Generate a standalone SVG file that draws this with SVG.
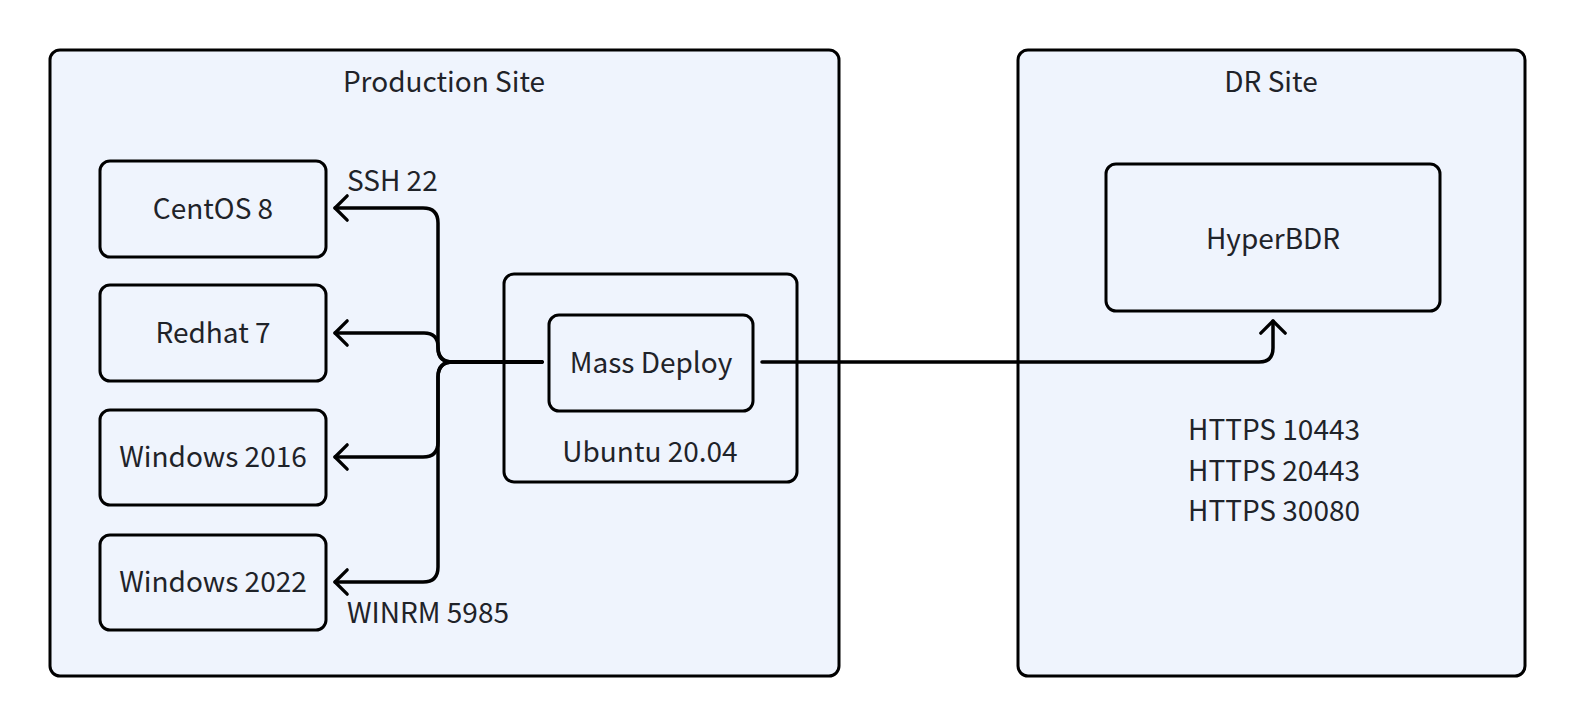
<svg xmlns="http://www.w3.org/2000/svg" width="1578" height="728" viewBox="0 0 1578 728">
  <style>
    .box { fill: #eff4fd; stroke: #000; stroke-width: 3; }
    .txt { font-family: "Noto Sans CJK SC", "Noto Sans", sans-serif; font-size: 28px; font-weight: 400; fill: #1f2329; }
    .mid { text-anchor: middle; }
    .conn { fill: none; stroke: #000; stroke-width: 3.5; stroke-linecap: round; stroke-linejoin: round; }
  </style>
  <defs>
    <marker id="arrow" markerUnits="userSpaceOnUse" markerWidth="30" markerHeight="30" viewBox="-16 -16 32 32" refX="0" refY="0" orient="auto">
      <path d="M-13 -13 L0 0 L-13 13" fill="none" stroke="#000" stroke-width="3.5" stroke-linecap="round" stroke-linejoin="round"/>
    </marker>
  </defs>
  <rect width="1578" height="728" fill="#ffffff"/>

  <g id="production-site">
    <rect class="box" x="50" y="50" width="789" height="626" rx="10"/>
    <text class="txt mid" x="444" y="92">Production Site</text>
  </g>
  <g id="dr-site">
    <rect class="box" x="1018" y="50" width="507" height="626" rx="10"/>
    <text class="txt mid" x="1271" y="92">DR Site</text>
  </g>

  <g id="centos8">
    <rect class="box" x="100" y="161" width="226" height="96" rx="10"/>
    <text class="txt mid" x="213" y="219">CentOS 8</text>
  </g>
  <g id="redhat7">
    <rect class="box" x="100" y="285" width="226" height="96" rx="10"/>
    <text class="txt mid" x="213" y="343">Redhat 7</text>
  </g>
  <g id="windows2016">
    <rect class="box" x="100" y="410" width="226" height="95" rx="10"/>
    <text class="txt mid" x="213" y="467">Windows 2016</text>
  </g>
  <g id="windows2022">
    <rect class="box" x="100" y="535" width="226" height="95" rx="10"/>
    <text class="txt mid" x="213" y="592">Windows 2022</text>
  </g>

  <g id="ubuntu">
    <rect class="box" x="504" y="274" width="293" height="208" rx="10"/>
    <text class="txt mid" x="650" y="462">Ubuntu 20.04</text>
  </g>
  <g id="mass-deploy">
    <rect class="box" x="549" y="315" width="204" height="96" rx="10"/>
    <text class="txt mid" x="651" y="373">Mass Deploy</text>
  </g>

  <g id="hyperbdr">
    <rect class="box" x="1106" y="164" width="334" height="147" rx="10"/>
    <text class="txt mid" x="1273" y="249">HyperBDR</text>
  </g>

  <g id="connectors">
    <path class="conn" marker-end="url(#arrow)" d="M542 362 H453 Q438 362 438 347 V223 Q438 208 423 208 H335"/>
    <path class="conn" marker-end="url(#arrow)" d="M542 362 H452 Q438 362 438 348 V347 Q438 333 424 333 H335"/>
    <path class="conn" marker-end="url(#arrow)" d="M542 362 H453 Q438 362 438 377 V442 Q438 457 423 457 H335"/>
    <path class="conn" marker-end="url(#arrow)" d="M542 362 H453 Q438 362 438 377 V567 Q438 582 423 582 H335"/>
    <path class="conn" marker-end="url(#arrow)" d="M762 362 H1259 Q1273 362 1273 348 V321"/>
  </g>

  <g id="labels">
    <text class="txt" x="347" y="191">SSH 22</text>
    <text class="txt" x="347" y="623">WINRM 5985</text>
    <text class="txt" x="1188" y="440">HTTPS 10443</text>
    <text class="txt" x="1188" y="481">HTTPS 20443</text>
    <text class="txt" x="1188" y="521">HTTPS 30080</text>
  </g>
</svg>
